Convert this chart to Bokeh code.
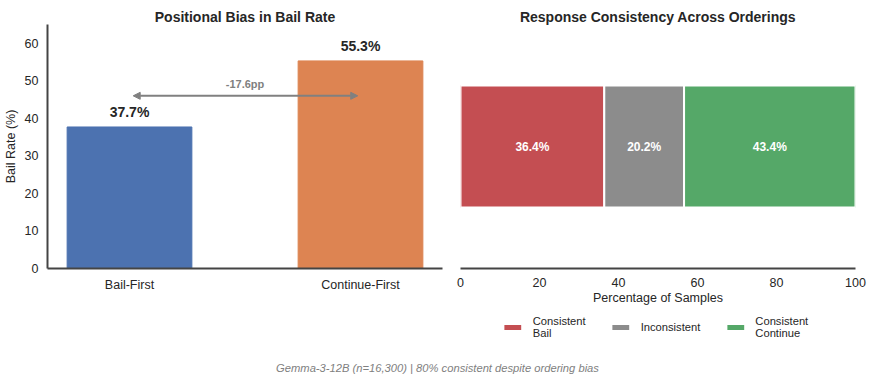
from bokeh.plotting import figure
from bokeh.models import (Range1d, FixedTicker, Arrow, NormalHead, Legend, LegendItem,
                          Label, ColumnDataSource, Spacer)
from bokeh.layouts import row, column
from bokeh.embed import file_html
from bokeh.resources import INLINE
from bokeh.core.properties import value

# ---- data ----
categories = ["Bail-First", "Continue-First"]
bail_rates = [37.7, 55.3]
bar_colors = ["#4C72B0", "#DD8452"]

segment_labels = ["Consistent\nBail", "Inconsistent", "Consistent\nContinue"]
segment_values = [36.4, 20.2, 43.4]
segment_colors = ["#C44E52", "#8C8C8C", "#55A868"]

y_ticks_left = [0, 10, 20, 30, 40, 50, 60]
x_ticks_right = [0, 20, 40, 60, 80, 100]

left_title = "Positional Bias in Bail Rate"
right_title = "Response Consistency Across Orderings"
footer_text = "Gemma-3-12B (n=16,300) | 80% consistent despite ordering bias"

FONT = "Liberation Sans"
TXT = "#262626"
AXC = "#444444"
gray = "#808080"


def style_axes(p):
    p.xgrid.visible = False
    p.ygrid.visible = False
    p.outline_line_color = None
    p.title.text_font = FONT
    p.title.text_font_size = "14px"
    p.title.text_font_style = "bold"
    p.title.text_color = TXT
    p.title.align = "center"
    p.title.standoff = 0
    for ax in p.xaxis + p.yaxis:
        ax.axis_line_color = AXC
        ax.axis_line_width = 2
        ax.major_tick_line_color = None
        ax.minor_tick_line_color = None
        ax.major_tick_out = 0
        ax.major_tick_in = 0
        ax.minor_tick_out = 0
        ax.minor_tick_in = 0
        ax.major_label_text_font = FONT
        ax.major_label_text_font_size = "12.5px"
        ax.major_label_text_color = TXT
        ax.axis_label_text_font = FONT
        ax.axis_label_text_font_size = "12.5px"
        ax.axis_label_text_font_style = "normal"
        ax.axis_label_text_color = TXT


H1 = 310

# ---- left panel ----
xs = list(range(len(categories)))
p1 = figure(width=450, height=H1, x_range=Range1d(-0.355, 1.355), y_range=Range1d(0, 65),
            output_backend="svg", toolbar_location=None, title=left_title,
            min_border_left=46, min_border_right=8, min_border_top=24, min_border_bottom=42)
style_axes(p1)
src1 = ColumnDataSource(dict(x=xs, top=bail_rates, color=bar_colors,
                             lab=[f"{v:.1f}%" for v in bail_rates],
                             ly=[v + 1.8 for v in bail_rates]))
p1.vbar(x="x", top="top", width=0.54, color="color", source=src1)
p1.text(x="x", y="ly", text="lab", source=src1, text_align="center", text_baseline="bottom",
        text_font=value(FONT), text_font_size="14px", text_font_style="bold", text_color=TXT)

p1.xaxis.ticker = FixedTicker(ticks=xs)
p1.xaxis.major_label_overrides = {i: c for i, c in enumerate(categories)}
p1.xaxis.major_label_standoff = 9
p1.yaxis.ticker = FixedTicker(ticks=y_ticks_left)
p1.yaxis.axis_label = "Bail Rate (%)"
p1.yaxis.major_label_standoff = 9
p1.yaxis.axis_label_standoff = 4

diff = bail_rates[0] - bail_rates[1]
mid = (bail_rates[0] + bail_rates[1]) / 2
p1.add_layout(Arrow(start=NormalHead(size=7, fill_color=gray, line_color=gray),
                    end=NormalHead(size=7, fill_color=gray, line_color=gray),
                    x_start=xs[0] + 0.016, y_start=mid - 0.5,
                    x_end=xs[1] - 0.012, y_end=mid - 0.5,
                    line_color=gray, line_width=2))
p1.text(x=[(xs[0] + xs[1]) / 2], y=[mid + 2.6], text=[f"{diff:.1f}pp"], text_align="center",
        text_baseline="middle", text_font=value(FONT), text_font_size="11px",
        text_font_style="bold", text_color=gray)

# ---- right panel ----
lefts, rights = [], []
acc = 0.0
for v in segment_values:
    lefts.append(acc)
    acc += v
    rights.append(acc)

p2 = figure(width=423, height=H1, x_range=Range1d(0, 100), y_range=Range1d(-1, 1),
            output_backend="svg", toolbar_location=None, title=right_title,
            min_border_left=10, min_border_right=18, min_border_top=24, min_border_bottom=42)
style_axes(p2)
p2.yaxis.visible = False
p2.xaxis.ticker = FixedTicker(ticks=x_ticks_right)
p2.xaxis.axis_label = "Percentage of Samples"
p2.xaxis.major_label_standoff = 9
p2.xaxis.axis_label_standoff = 1

for l, r, c in zip(lefts, rights, segment_colors):
    p2.hbar(y=[0], left=[l], right=[r], height=1.0, fill_color=c, line_color="white",
            line_width=2)

p2.text(x=[(l + r) / 2 for l, r in zip(lefts, rights)], y=[0] * len(segment_values),
        text=[f"{v:.1f}%" for v in segment_values], text_align="center", text_baseline="middle",
        text_font=value(FONT), text_font_size="12px", text_font_style="bold", text_color="white")

# ---- legend strip (under the right panel) ----
p_leg = figure(width=410, height=33, x_range=Range1d(0, 100), y_range=Range1d(10, 11),
               output_backend="svg", toolbar_location=None, min_border=0)
p_leg.axis.visible = False
p_leg.grid.visible = False
p_leg.outline_line_color = None
items = []
for l, r, c, lab in zip(lefts, rights, segment_colors, segment_labels):
    rr = p_leg.hbar(y=[0], left=[l], right=[r], height=1.0, fill_color=c, line_color=None)
    items.append(LegendItem(label=lab, renderers=[rr]))
legend = Legend(items=items, orientation="horizontal", location="center",
                border_line_color=None, background_fill_alpha=0,
                label_text_font=FONT, label_text_font_size="11.2px", label_text_color=TXT,
                glyph_width=21, glyph_height=6, label_standoff=10, spacing=24,
                padding=0, margin=0)
p_leg.add_layout(legend, "center")

# ---- footer ----
p3 = figure(width=873, height=37, x_range=Range1d(0, 1), y_range=Range1d(0, 1),
            output_backend="svg", toolbar_location=None, min_border=0)
p3.axis.visible = False
p3.grid.visible = False
p3.outline_line_color = None
p3.add_layout(Label(x=437, y=13, x_units="screen", y_units="screen", text=footer_text,
                    text_align="center", text_baseline="middle", text_font=FONT,
                    text_font_size="11.2px", text_font_style="italic", text_color=gray))

layout = column(row(p1, p2), row(Spacer(width=450, height=33), p_leg), p3)
open("out.html", "w").write(file_html(layout, INLINE))
